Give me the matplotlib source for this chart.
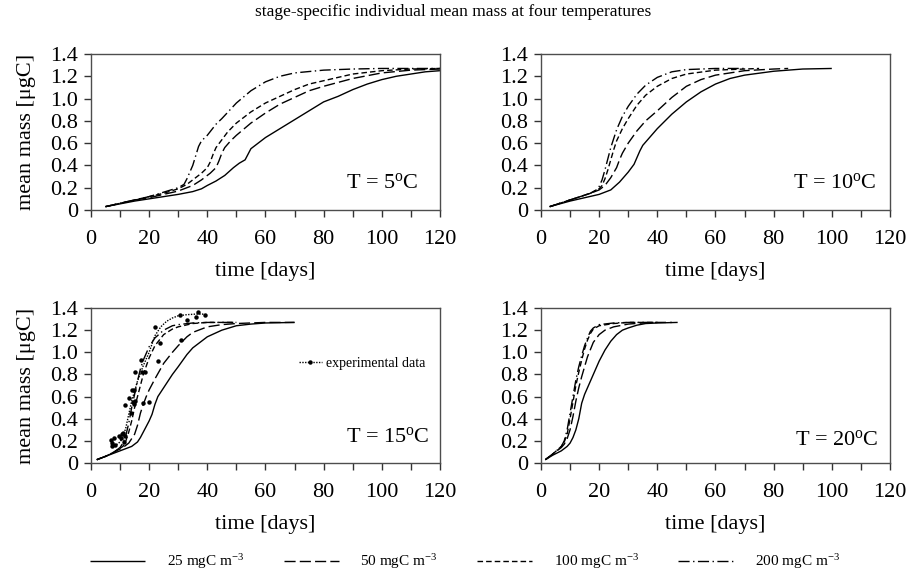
import numpy as np
import matplotlib
matplotlib.use("Agg")
import matplotlib.pyplot as plt
from matplotlib.lines import Line2D

plt.rcParams['font.family'] = ['Liberation Serif', 'DejaVu Serif']
plt.rcParams['mathtext.fontset'] = 'custom'
plt.rcParams['mathtext.rm'] = 'Liberation Serif'
plt.rcParams['mathtext.it'] = 'Liberation Serif:italic'

# --- data: (time [days], mean mass [ugC]) ---
# T = 5 C
t5_25_x = [5, 10, 15, 20, 25, 30, 35, 38, 40, 43, 46, 49, 51, 53, 54, 55, 57, 60, 65, 70, 75, 80, 85, 90, 95, 100, 105, 110, 115, 120]
t5_25_y = [0.03, 0.055, 0.08, 0.10, 0.12, 0.14, 0.165, 0.19, 0.22, 0.26, 0.31, 0.38, 0.42, 0.45, 0.50, 0.55, 0.59, 0.65, 0.73, 0.81, 0.89, 0.97, 1.02, 1.08, 1.13, 1.17, 1.20, 1.22, 1.24, 1.25]
t5_50_x = [5, 10, 15, 20, 25, 30, 35, 38, 41, 43, 44, 45, 46, 48, 50, 55, 60, 65, 70, 75, 80, 90, 100, 110, 120]
t5_50_y = [0.03, 0.06, 0.09, 0.11, 0.14, 0.17, 0.22, 0.27, 0.33, 0.38, 0.44, 0.51, 0.56, 0.62, 0.67, 0.78, 0.87, 0.95, 1.01, 1.07, 1.11, 1.18, 1.23, 1.255, 1.265]
t5_100_x = [5, 10, 15, 20, 25, 30, 33, 36, 38, 40, 41, 42, 43, 45, 47, 50, 55, 60, 65, 70, 75, 80, 90, 100, 110, 120]
t5_100_y = [0.03, 0.06, 0.09, 0.12, 0.15, 0.19, 0.23, 0.29, 0.33, 0.38, 0.43, 0.50, 0.56, 0.63, 0.70, 0.78, 0.88, 0.96, 1.02, 1.08, 1.13, 1.16, 1.22, 1.25, 1.265, 1.27]
t5_200_x = [5, 10, 15, 20, 25, 30, 32, 33, 35, 37, 38, 40, 43, 45, 50, 55, 60, 65, 70, 80, 90, 100, 110, 120]
t5_200_y = [0.03, 0.06, 0.09, 0.12, 0.16, 0.20, 0.23, 0.28, 0.40, 0.57, 0.62, 0.67, 0.77, 0.82, 0.96, 1.07, 1.15, 1.20, 1.23, 1.255, 1.265, 1.27, 1.27, 1.27]

# T = 10 C
t10_25_x = [3, 10, 15, 20, 24, 27, 30, 32, 33, 34, 35, 37, 40, 45, 50, 55, 60, 65, 70, 80, 90, 100]
t10_25_y = [0.03, 0.08, 0.11, 0.14, 0.18, 0.25, 0.34, 0.41, 0.47, 0.53, 0.58, 0.64, 0.73, 0.86, 0.97, 1.06, 1.13, 1.18, 1.21, 1.245, 1.265, 1.27]
t10_50_x = [3, 10, 17, 20, 22, 24, 26, 27, 28, 30, 33, 36, 40, 45, 50, 55, 60, 70, 80, 85]
t10_50_y = [0.03, 0.09, 0.15, 0.18, 0.22, 0.29, 0.38, 0.45, 0.51, 0.60, 0.71, 0.80, 0.89, 1.01, 1.11, 1.17, 1.21, 1.25, 1.265, 1.27]
t10_100_x = [3, 10, 17, 20, 21, 22, 23, 24, 25, 26, 28, 30, 33, 36, 40, 45, 50, 60, 70, 75]
t10_100_y = [0.03, 0.09, 0.15, 0.19, 0.22, 0.28, 0.36, 0.45, 0.54, 0.62, 0.73, 0.82, 0.94, 1.03, 1.11, 1.18, 1.22, 1.255, 1.265, 1.27]
t10_200_x = [3, 10, 17, 19, 20, 21, 22, 23, 24, 26, 28, 30, 33, 36, 40, 45, 50, 60, 70]
t10_200_y = [0.03, 0.09, 0.15, 0.18, 0.21, 0.27, 0.36, 0.46, 0.56, 0.72, 0.84, 0.93, 1.04, 1.12, 1.19, 1.24, 1.26, 1.27, 1.27]

# T = 15 C
t15_25_x = [2, 5, 8, 11, 14, 16, 17, 18, 19, 20, 21, 22, 23, 25, 28, 30, 33, 35, 38, 40, 45, 50, 55, 60, 70]
t15_25_y = [0.03, 0.06, 0.09, 0.12, 0.15, 0.19, 0.23, 0.28, 0.33, 0.38, 0.44, 0.53, 0.60, 0.68, 0.80, 0.87, 0.98, 1.04, 1.10, 1.14, 1.20, 1.24, 1.255, 1.265, 1.27]
t15_50_x = [2, 5, 8, 11, 13, 15, 16, 17, 18, 19, 20, 22, 25, 28, 30, 33, 35, 40, 45, 50, 60, 70]
t15_50_y = [0.03, 0.06, 0.10, 0.14, 0.18, 0.26, 0.34, 0.45, 0.53, 0.60, 0.66, 0.76, 0.90, 1.00, 1.06, 1.14, 1.18, 1.23, 1.25, 1.26, 1.27, 1.27]
t15_100_x = [2, 5, 8, 11, 12, 13, 14, 15, 16, 17, 18, 20, 22, 25, 28, 30, 35, 40, 50]
t15_100_y = [0.03, 0.06, 0.10, 0.15, 0.20, 0.28, 0.38, 0.50, 0.60, 0.70, 0.80, 0.95, 1.06, 1.16, 1.21, 1.23, 1.26, 1.27, 1.27]
t15_200_x = [2, 5, 8, 10, 11, 12, 13, 14, 15, 16, 17, 18, 20, 22, 25, 28, 30, 35, 40, 50]
t15_200_y = [0.03, 0.06, 0.10, 0.14, 0.18, 0.25, 0.36, 0.50, 0.62, 0.74, 0.85, 0.93, 1.05, 1.13, 1.20, 1.24, 1.25, 1.265, 1.27, 1.27]
exp_line_x = [8, 10, 11, 12, 13, 14, 15, 16, 17, 18, 20, 22, 24, 26, 28, 30, 33, 36, 39]
exp_line_y = [0.15, 0.19, 0.23, 0.32, 0.44, 0.56, 0.65, 0.74, 0.81, 0.88, 1.00, 1.15, 1.23, 1.28, 1.31, 1.33, 1.34, 1.345, 1.345]
exp_x = [6.8, 7.9, 7.1, 7.3, 8.2, 9.7, 10.3, 10.7, 11.1, 11.7, 11.5, 11.7, 13.0, 13.6, 14.0, 14.8, 14.3, 14.9, 15.3,
         15.1, 17.2, 17.4, 18.6, 17.8, 19.8, 23.1, 23.7, 22.1, 30.8, 30.6, 33.1, 36.1, 36.9, 39.2]
exp_y = [0.21, 0.23, 0.18, 0.15, 0.16, 0.24, 0.23, 0.26, 0.27, 0.24, 0.19, 0.52, 0.59, 0.45, 0.66, 0.66, 0.55, 0.53, 0.56,
         0.82, 0.93, 0.82, 0.82, 0.54, 0.55, 0.92, 1.08, 1.23, 1.11, 1.34, 1.29, 1.32, 1.36, 1.34]

# T = 20 C
t20_25_x = [1.5, 4, 7, 9, 10, 11, 12, 13, 14, 15, 16, 18, 20, 22, 24, 26, 28, 30, 33, 36, 40, 47]
t20_25_y = [0.03, 0.07, 0.11, 0.15, 0.18, 0.23, 0.30, 0.40, 0.54, 0.62, 0.68, 0.80, 0.92, 1.02, 1.10, 1.16, 1.20, 1.22, 1.245, 1.26, 1.265, 1.27]
t20_50_x = [1.5, 4, 7, 8, 9, 10, 11, 12, 13, 14, 16, 18, 20, 22, 25, 30, 35, 40, 45]
t20_50_y = [0.03, 0.08, 0.14, 0.17, 0.22, 0.30, 0.42, 0.56, 0.68, 0.78, 0.96, 1.09, 1.16, 1.20, 1.23, 1.255, 1.265, 1.27, 1.27]
t20_100_x = [1.5, 4, 7, 8, 9, 10, 11, 12, 13, 14, 15, 16, 17, 18, 20, 25, 30, 35, 40]
t20_100_y = [0.03, 0.08, 0.15, 0.19, 0.26, 0.40, 0.55, 0.70, 0.82, 0.93, 1.03, 1.11, 1.17, 1.21, 1.24, 1.26, 1.27, 1.27, 1.27]
t20_200_x = [1.5, 4, 7, 8, 9, 10, 11, 12, 13, 14, 15, 16, 17, 18, 20, 25, 30, 35, 40]
t20_200_y = [0.03, 0.08, 0.15, 0.20, 0.30, 0.45, 0.60, 0.75, 0.87, 0.97, 1.06, 1.13, 1.19, 1.22, 1.25, 1.265, 1.27, 1.27, 1.27]

conc_labels = ['25 mgC m$^{\\mathrm{-3}}$', '50 mgC m$^{\\mathrm{-3}}$',
               '100 mgC m$^{\\mathrm{-3}}$', '200 mgC m$^{\\mathrm{-3}}$']
temps = ['5', '10', '15', '20']
x_ticks = [0, 20, 40, 60, 80, 100, 120]
y_ticks = [0, 0.2, 0.4, 0.6, 0.8, 1.0, 1.2, 1.4]
y_ticklabels = ['0', '0.2', '0.4', '0.6', '0.8', '1.0', '1.2', '1.4']

styles = [(0, ()), (0, (8, 3)), (0, (4, 2.2)), (0, (8, 2.5, 1, 2.5))]

panels = [
    [(t5_25_x, t5_25_y), (t5_50_x, t5_50_y), (t5_100_x, t5_100_y), (t5_200_x, t5_200_y)],
    [(t10_25_x, t10_25_y), (t10_50_x, t10_50_y), (t10_100_x, t10_100_y), (t10_200_x, t10_200_y)],
    [(t15_25_x, t15_25_y), (t15_50_x, t15_50_y), (t15_100_x, t15_100_y), (t15_200_x, t15_200_y)],
    [(t20_25_x, t20_25_y), (t20_50_x, t20_50_y), (t20_100_x, t20_100_y), (t20_200_x, t20_200_y)],
]
# axes rectangles (left, bottom, width, height)
rects = [(0.1004, 0.6316, 0.3852, 0.2737), (0.5971, 0.6316, 0.3852, 0.2737),
         (0.1004, 0.1877, 0.3852, 0.2719), (0.5971, 0.1877, 0.3852, 0.2719)]
t_pos = [(112.5, 0.24), (115.5, 0.24), (116.5, 0.235), (116.2, 0.21)]

fig = plt.figure(figsize=(9.06, 5.70), dpi=100)
fig.text(0.5, 1 - 12 / 570, 'stage-specific individual mean mass at four temperatures',
         ha='center', va='center', fontsize=12.5)

for i in range(4):
    ax = fig.add_axes(rects[i])
    for (xs, ys), ls in zip(panels[i], styles):
        ax.plot(xs, ys, color='black', lw=1.0, linestyle=ls)
    if i == 2:
        ax.plot(exp_line_x, exp_line_y, color='black', lw=1.0, linestyle=(0, (1, 1)))
        ax.plot(exp_x, exp_y, 'o', color='black', ms=3.2, mec='none')
        h = Line2D([], [], color='black', lw=1.0, linestyle=(0, (1, 1)), marker='o', ms=3.2, mec='none')
        ax.legend([h], ['experimental data'], loc='center left', bbox_to_anchor=(0.595, 0.645),
                  frameon=False, fontsize=10, handlelength=1.7, handletextpad=0.3,
                  borderpad=0, borderaxespad=0, numpoints=1)
    ax.set_xlim(0, 120)
    ax.set_ylim(0, 1.4)
    ax.set_xticks(x_ticks)
    ax.set_xticks(range(10, 120, 20), minor=True)
    ax.set_yticks(y_ticks)
    ax.set_yticklabels(y_ticklabels)
    ax.tick_params(which='both', direction='out', length=5, width=1, labelsize=16, color='0.2')
    ax.tick_params(axis='y', pad=4.5)
    ax.tick_params(axis='x', pad=9.5)
    for s in ax.spines.values():
        s.set_color('0.3')
        s.set_linewidth(1)
    ax.set_xlabel('time [days]', fontsize=16, labelpad=9)
    if i % 2 == 0:
        ax.set_ylabel('mean mass [μgC]', fontsize=16, labelpad=10)
    ax.text(t_pos[i][0], t_pos[i][1], 'T = ' + temps[i] + '$^{\\mathrm{o}}$C',
            ha='right', va='center', fontsize=16)

handles = [Line2D([], [], color='black', lw=1.0, linestyle=ls) for ls in styles]
fig.legend(handles, conc_labels, loc='center', bbox_to_anchor=(465 / 906, 8 / 570), ncol=4,
           frameon=False, fontsize=11, handlelength=3.6, handletextpad=1.4, columnspacing=2.6,
           borderpad=0)

fig.savefig('out.png', dpi=100)
